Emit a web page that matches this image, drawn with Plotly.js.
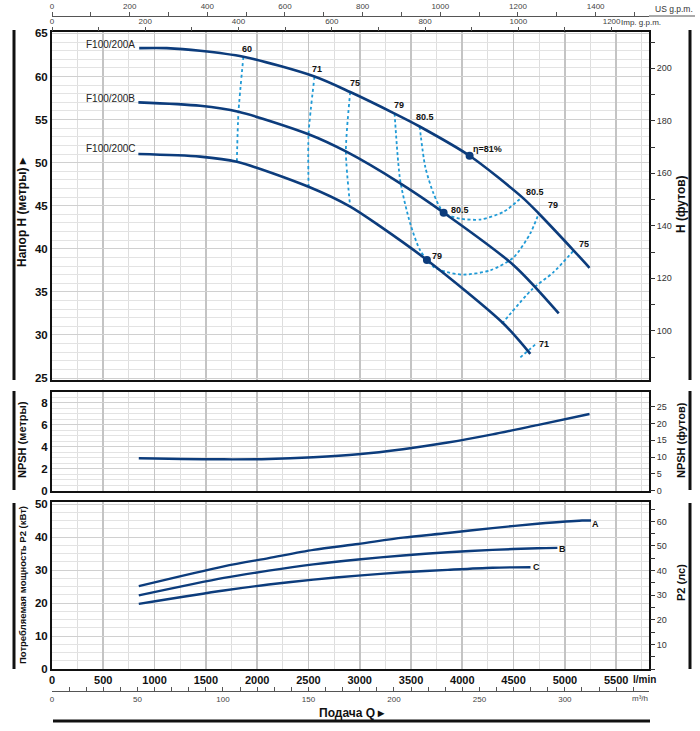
<!DOCTYPE html>
<html><head><meta charset="utf-8">
<script src="https://cdn.plot.ly/plotly-3.0.1.min.js"></script>
<style>body{margin:0;background:#fff}#chart{width:700px;height:731px}</style>
</head><body><div id="chart"></div>
<script>
// ---------- DATA (flow Q in l/min) ----------
const QMAX = 5820;
// Head curves H (m)
const Q_A = [850, 1119, 1444, 1866, 2559, 2907, 3340, 3584, 4071, 4582, 4745, 5086, 5240];
const H_A = [63.3, 63.3, 63.0, 62.3, 60.0, 58.2, 55.7, 54.2, 50.8, 46.0, 44.1, 39.8, 37.8];
const Q_B = [842, 1444, 1818, 2501, 2865, 3395, 3818, 4500, 4940];
const H_B = [57.0, 56.6, 55.9, 53.3, 51.3, 47.6, 44.2, 38.1, 32.5];
const Q_C = [842, 1444, 1802, 2501, 2907, 3200, 3655, 4403, 4663];
const H_C = [51.0, 50.7, 50.1, 47.2, 44.9, 42.6, 38.7, 31.3, 27.8];
const curveNames = ['F100/200A', 'F100/200B', 'F100/200C'];
const curveNameQ = [830, 830, 830];
const curveNameH = [63.7, 57.5, 51.6];

// Iso-efficiency lines
const eff60_Q = [1866, 1818, 1802];             const eff60_H = [62.3, 55.9, 50.1];
const eff71_Q = [2559, 2501, 2501];             const eff71_H = [60.0, 53.3, 47.2];
const eff75_Q = [2907, 2865, 2907];             const eff75_H = [58.2, 51.3, 44.9];
const eff79_Q = [3340, 3395, 3493, 3590, 3720, 3851, 4013, 4273, 4500, 4663, 4745];
const eff79_H = [55.7, 47.9, 42.9, 39.8, 37.9, 37.3, 37.0, 37.5, 39.0, 41.8, 44.1];
const eff805_Q = [3584, 3639, 3720, 3818, 3980, 4176, 4403, 4582];
const eff805_H = [54.2, 49.5, 46.4, 44.2, 43.5, 43.4, 44.3, 46.0];
const eff75r_Q = [4387, 4680, 4890, 5086];      const eff75r_H = [31.3, 35.3, 37.3, 39.8];
const eff71r_Q = [4566, 4712];                  const eff71r_H = [27.4, 28.9];

// Best efficiency points
const bepQ = [4071, 3818, 3655];
const bepH = [50.8, 44.2, 38.7];

// Efficiency labels
const effLabelText = ['60', '71', '75', '79', '80.5', 'η=81%', '80.5', '79', '75', '80.5', '79', '71'];
const effLabelQ = [1899, 2582, 2956, 3379, 3639, 4247, 4712, 4881, 5183, 3980, 3753, 4793];
const effLabelH = [63.2, 60.9, 59.2, 56.7, 55.3, 51.6, 46.6, 45.1, 40.6, 44.5, 39.2, 29.0];

// NPSH (m)
const Q_NPSH = [846, 1675, 2112, 2548, 2985, 3421, 3858, 4294, 4731, 5240];
const NPSH = [2.94, 2.84, 2.87, 3.03, 3.30, 3.76, 4.37, 5.11, 5.96, 6.97];

// Power P2 (kW)
const Q_PA = [846, 1675, 2112, 2548, 2985, 3421, 3858, 4294, 4731, 5167, 5255];
const P_A = [25.1, 31.1, 33.6, 36.1, 37.9, 39.8, 41.2, 42.7, 44.0, 45.0, 45.0];
const Q_PB = [846, 1675, 2112, 2548, 2985, 3421, 3858, 4294, 4731, 4927];
const P_B = [22.3, 27.6, 29.8, 31.7, 33.2, 34.4, 35.4, 36.1, 36.6, 36.7];
const Q_PC = [846, 1675, 2112, 2548, 2985, 3421, 3858, 4294, 4665];
const P_C = [19.75, 23.8, 25.6, 27.1, 28.3, 29.3, 30.05, 30.7, 30.85];
const powerLabels = ['A', 'B', 'C'];
const powerLabelQ = [5300, 4981, 4728];
const powerLabelP = [43.9, 36.4, 31.0];

// Ticks
const qTicks = [0, 500, 1000, 1500, 2000, 2500, 3000, 3500, 4000, 4500, 5000, 5500];
const qTickText = ['0', '500', '1000', '1500', '2000', '2500', '3000', '3500', '4000', '4500', '5000', '5500'];
const usTicks = [0, 200, 400, 600, 800, 1000, 1200, 1400];
const impTicks = [0, 200, 400, 600, 800, 1000, 1200];
const m3hTicks = [0, 50, 100, 150, 200, 250, 300];
const hTicks = [25, 30, 35, 40, 45, 50, 55, 60, 65];
const ftTicks = [100, 120, 140, 160, 180, 200];
const npshTicks = [0, 2, 4, 6, 8];
const npshFtTicks = [0, 5, 10, 15, 20, 25];
const pTicks = [0, 10, 20, 30, 40, 50];
const hpTicks = [10, 20, 30, 40, 50, 60];

// ---------- CONSTANTS ----------
const FT = 3.28084, USG = 3.78541, IMPG = 4.54609, M3H = 0.06, HP = 1.341;
const H_RANGE = [24.77, 65.17], N_RANGE = [0, 9.0], P_RANGE = [0, 50.7];
const NAVY = '#0c3c7c', CYAN = '#1f9ad6';
const FN = 'Liberation Sans Narrow, Liberation Sans, Arial, sans-serif';
const FB = 'Liberation Sans, Arial, sans-serif';
const L = 52, R = 51, T = 16, B = 40, W = 700, HH = 731;
const PW = W - L - R, PH = HH - T - B;
const px2x = p => (p - L) / PW;
const py2y = p => (HH - B - p) / PH;
const dom = (top, bot) => [py2y(bot), py2y(top)];

// ---------- TRACES ----------
const head = (q, h) => ({x: q, y: h, xaxis: 'x', yaxis: 'y', mode: 'lines', hoverinfo: 'skip',
  line: {color: NAVY, width: 2.6, shape: 'spline', smoothing: 0.8}});
const eff = (q, h, dash) => ({x: q, y: h, xaxis: 'x', yaxis: 'y', mode: 'lines', hoverinfo: 'skip',
  line: {color: CYAN, width: 1.8, dash: dash, shape: 'spline', smoothing: 0.7}});
const pw = (q, p) => ({x: q, y: p, xaxis: 'x3', yaxis: 'y3', mode: 'lines', hoverinfo: 'skip',
  line: {color: NAVY, width: 2.4, shape: 'spline', smoothing: 0.8}});

const traces = [
  eff(eff60_Q, eff60_H, 'dot'), eff(eff71_Q, eff71_H, 'dot'), eff(eff75_Q, eff75_H, 'dot'),
  eff(eff79_Q, eff79_H, '3px,2.5px'), eff(eff805_Q, eff805_H, '3px,2.5px'),
  eff(eff75r_Q, eff75r_H, '3px,2.5px'), eff(eff71r_Q, eff71r_H, '3px,2.5px'),
  head(Q_A, H_A), head(Q_B, H_B), head(Q_C, H_C),
  {x: bepQ, y: bepH, xaxis: 'x', yaxis: 'y', mode: 'markers', hoverinfo: 'skip',
   marker: {color: NAVY, size: 8}},
  {x: Q_NPSH, y: NPSH, xaxis: 'x2', yaxis: 'y2', mode: 'lines', hoverinfo: 'skip',
   line: {color: NAVY, width: 2.4, shape: 'spline', smoothing: 0.8}},
  pw(Q_PA, P_A), pw(Q_PB, P_B), pw(Q_PC, P_C),
  // axis carriers (empty) for secondary scales
  {x: [0, QMAX / USG], y: [null, null], xaxis: 'x4', yaxis: 'y', mode: 'lines', hoverinfo: 'skip'},
  {x: [0, QMAX / IMPG], y: [null, null], xaxis: 'x5', yaxis: 'y', mode: 'lines', hoverinfo: 'skip'},
  {x: [0, QMAX * M3H], y: [null, null], xaxis: 'x6', yaxis: 'y3', mode: 'lines', hoverinfo: 'skip'},
  {x: [null, null], y: [H_RANGE[0] * FT, H_RANGE[1] * FT], xaxis: 'x', yaxis: 'y4', mode: 'lines', hoverinfo: 'skip'},
  {x: [null, null], y: [0, N_RANGE[1] * FT], xaxis: 'x2', yaxis: 'y5', mode: 'lines', hoverinfo: 'skip'},
  {x: [null, null], y: [0, P_RANGE[1] * HP], xaxis: 'x3', yaxis: 'y6', mode: 'lines', hoverinfo: 'skip'}
];

// ---------- AXES ----------
const gridX = {range: [0, QMAX], showline: true, linecolor: '#111', linewidth: 2, mirror: true,
  ticks: '', zeroline: false, showgrid: true, gridcolor: '#c4c4c4', gridwidth: 1.8,
  tickmode: 'array', tickvals: qTicks, ticktext: qTickText,
  minor: {tickmode: 'linear', tick0: 0, dtick: 250, showgrid: true, gridcolor: '#dedede', gridwidth: 1}};
const leftY = (d, r, tv, mdt) => ({domain: d, range: r, showline: true, linecolor: '#111', linewidth: 2,
  mirror: true, ticks: '', zeroline: false, tickmode: 'array', tickvals: tv, showgrid: true,
  gridcolor: '#d0d0d0', gridwidth: 1,
  minor: {tickmode: 'linear', tick0: 0, dtick: mdt, showgrid: true, gridcolor: '#e3e3e3', gridwidth: 1},
  tickfont: {family: FN, size: 11.5, color: '#111', weight: 'bold'}});
const rightY = (ov, anc, r, tv, mdt) => ({overlaying: ov, side: 'right', anchor: anc, range: r,
  tickmode: 'array', tickvals: tv, ticks: 'outside', ticklen: 5, tickcolor: '#333', tickwidth: 1,
  minor: mdt ? {tickmode: 'linear', tick0: 0, dtick: mdt, ticks: 'outside', ticklen: 5, tickcolor: '#333'} : undefined,
  showgrid: false, zeroline: false, showline: false,
  tickfont: {family: FN, size: 9, color: '#333'}});
const topX = (r, tv, pos, line) => ({overlaying: 'x', side: 'top', anchor: pos === undefined ? 'y' : 'free',
  position: pos, range: r, tickmode: 'array', tickvals: tv, ticks: 'outside', ticklen: 4, tickcolor: '#555',
  minor: {tickmode: 'linear', tick0: 0, dtick: 100, ticks: 'outside', ticklen: 4, tickcolor: '#555'},
  showline: line, linecolor: '#555', linewidth: 1, showgrid: false, zeroline: false,
  tickfont: {family: FN, size: 8, color: '#444'}});

const layout = {
  width: W, height: HH, paper_bgcolor: '#fff', plot_bgcolor: '#fff', showlegend: false,
  margin: {l: L, r: R, t: T, b: B},
  xaxis: Object.assign({}, gridX, {anchor: 'y', showticklabels: false}),
  xaxis2: Object.assign({}, gridX, {anchor: 'y2', showticklabels: false}),
  xaxis3: Object.assign({}, gridX, {anchor: 'y3', tickfont: {family: FN, size: 11, color: '#111', weight: 'bold'}}),
  xaxis4: topX([0, QMAX / USG], usTicks, 1, true),
  xaxis5: topX([0, QMAX / IMPG], impTicks, undefined, false),
  xaxis6: {overlaying: 'x3', side: 'bottom', anchor: 'free', position: 0, range: [0, QMAX * M3H],
    tickmode: 'array', tickvals: m3hTicks, ticks: 'inside', ticklen: 4, tickcolor: '#555',
    minor: {tickmode: 'linear', tick0: 0, dtick: 10, ticks: 'inside', ticklen: 4, tickcolor: '#555'},
    showline: true, linecolor: '#555', linewidth: 1, showgrid: false, zeroline: false,
    tickfont: {family: FN, size: 8, color: '#444'}},
  yaxis: Object.assign(leftY(dom(32, 380), H_RANGE, hTicks, 1), {anchor: 'x'}),
  yaxis2: Object.assign(leftY(dom(391.7, 490.5), N_RANGE, npshTicks, 0.5), {anchor: 'x2'}),
  yaxis3: Object.assign(leftY(dom(501.7, 669), P_RANGE, pTicks, 2.5), {anchor: 'x3'}),
  yaxis4: rightY('y', 'x', [H_RANGE[0] * FT, H_RANGE[1] * FT], ftTicks, 10),
  yaxis5: rightY('y2', 'x2', [0, N_RANGE[1] * FT], npshFtTicks, 0),
  yaxis6: rightY('y3', 'x3', [0, P_RANGE[1] * HP], hpTicks, 5),
  annotations: [], shapes: []
};

const A = layout.annotations;
// curve names
curveNames.forEach((t, i) => A.push({x: curveNameQ[i], y: curveNameH[i], xref: 'x', yref: 'y', text: t,
  showarrow: false, xanchor: 'right', yanchor: 'middle', font: {family: FN, size: 10, color: '#222'}}));
// efficiency labels
effLabelText.forEach((t, i) => A.push({x: effLabelQ[i], y: effLabelH[i], xref: 'x', yref: 'y', text: t,
  showarrow: false, xanchor: 'center', yanchor: 'middle', font: {family: FB, size: 9, color: '#111', weight: 'bold'}}));
// power labels
powerLabels.forEach((t, i) => A.push({x: powerLabelQ[i], y: powerLabelP[i], xref: 'x3', yref: 'y3', text: t,
  showarrow: false, xanchor: 'center', yanchor: 'middle', font: {family: FB, size: 9, color: '#111', weight: 'bold'}}));

const ann = (text, xp, yp, opt) => A.push(Object.assign({text, x: px2x(xp), y: py2y(yp), xref: 'paper', yref: 'paper',
  showarrow: false, xanchor: 'center', yanchor: 'middle'}, opt));
const tf = s => ({family: FB, size: s, color: '#111', weight: 'bold'});
ann('Напор H (метры) ▸', 22, 212, {textangle: -90, font: tf(12)});
ann('NPSH (метры)', 22, 440, {textangle: -90, font: tf(11)});
ann('Потребляемая мощность P2 (кВт)', 22, 585, {textangle: -90, font: tf(9.5)});
ann('H (футов)', 681, 204, {textangle: -90, font: tf(12)});
ann('NPSH (футов)', 681, 440, {textangle: -90, font: tf(11)});
ann('P2 (лс)', 681, 583, {textangle: -90, font: tf(11)});
ann('Подача Q ▸', 352, 713, {font: tf(12)});
ann('l/min', 658, 679, {xanchor: 'right', font: {family: FN, size: 10, color: '#111', weight: 'bold'}});
ann('US g.p.m.', 695, 9, {xanchor: 'right', font: {family: FN, size: 8.5, color: '#333'}});
ann('Imp. g.p.m.', 663, 23, {xanchor: 'right', font: {family: FN, size: 8, color: '#333'}});
ann('m³/h', 650, 698, {xanchor: 'right', font: {family: FN, size: 8, color: '#444'}});

// decorative bars
const S = layout.shapes;
const vbar = (xp, y0, y1) => S.push({type: 'line', xref: 'paper', yref: 'paper', x0: px2x(xp), x1: px2x(xp),
  y0: py2y(y0), y1: py2y(y1), line: {color: '#111', width: 3}});
vbar(14, 30, 380); vbar(14, 391, 490); vbar(14, 503, 669);
vbar(690, 30, 380); vbar(690, 391, 490); vbar(690, 503, 669);
S.push({type: 'line', xref: 'paper', yref: 'paper', x0: px2x(53), x1: px2x(650), y0: py2y(721), y1: py2y(721),
  line: {color: '#111', width: 3}});
S.push({type: 'line', xref: 'paper', yref: 'paper', x0: 1, x1: px2x(695), y0: 1, y1: 1,
  line: {color: '#555', width: 1}});

Plotly.newPlot('chart', traces, layout, {displayModeBar: false, staticPlot: true});
</script>
</body></html>
